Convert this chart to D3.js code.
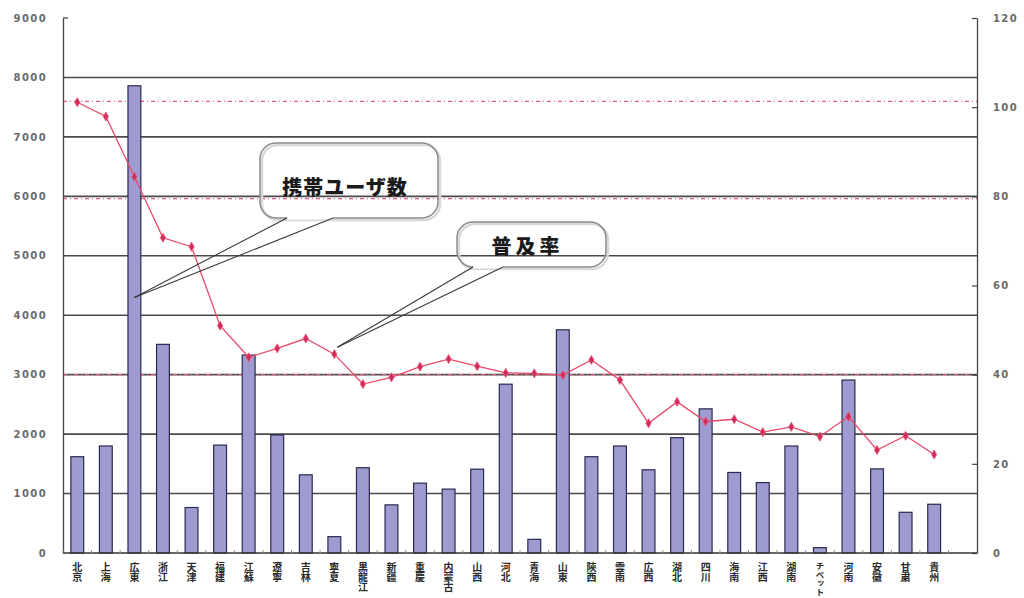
<!DOCTYPE html>
<html>
<head>
<meta charset="utf-8">
<script src="https://cdn.jsdelivr.net/npm/d3@7"></script>
<style>
  html, body { margin: 0; padding: 0; background: #ffffff; }
  svg { display: block; }
  .cat { writing-mode: vertical-rl; text-orientation: upright; }
</style>
</head>
<body>
<svg id="chart" width="1024" height="598"></svg>
<script>
// Provinces, ordered by penetration rate
const provinces = ["北京","上海","広東","浙江","天津","福建","江蘇","遼寧","吉林","寧夏",
  "黒龍江","新疆","重慶","内蒙古","山西","河北","青海","山東","陝西","雲南",
  "広西","湖北","四川","海南","江西","湖南","チベット","河南","安徽","甘粛","貴州"];

// Mobile subscribers (万人)
const users = [1620,1800,7860,3510,765,1815,3330,1985,1315,275,
  1435,810,1175,1075,1410,2840,230,3755,1620,1800,
  1400,1940,2425,1355,1185,1800,90,2910,1415,685,820];

// Penetration rate (%)
const rate = [101.1,97.9,84.4,70.7,68.7,51.0,43.9,45.9,48.1,44.6,
  37.9,39.4,41.8,43.5,41.9,40.4,40.3,39.9,43.3,38.8,
  29.1,33.9,29.5,30.0,27.1,28.3,26.1,30.6,23.1,26.3,22.1];

// Axis ticks
const leftTicks = [0,1000,2000,3000,4000,5000,6000,7000,8000,9000];
const rightTicks = [0,20,40,60,80,100,120];

// Reference levels on the rate axis (red dashed)
const rateRefs = [101.3, 79.5, 40];

// Callout texts
const calloutUsers = "携帯ユーザ数";
const calloutRate = "普及率";

const svg = d3.select("#chart");
const plotL = 63, plotR = 977, plotT = 18, plotB = 553;

const x = d3.scaleBand()
  .domain(provinces.concat(["_"]))
  .range([plotL, plotR])
  .paddingInner(0.55)
  .paddingOuter(0.275);

const yL = d3.scaleLinear().domain([0, 9000]).range([plotB, plotT]);
const yR = d3.scaleLinear().domain([0, 120]).range([plotB, plotT]);

// Horizontal gridlines
svg.append("g")
  .selectAll("line")
  .data(leftTicks.filter(t => t > 0 && t < 9000))
  .join("line")
  .attr("x1", plotL).attr("x2", plotR)
  .attr("y1", d => yL(d)).attr("y2", d => yL(d))
  .attr("stroke", "#4a4a4a")
  .attr("stroke-width", 1.6);

// Red dashed reference levels
svg.append("g")
  .selectAll("line")
  .data(rateRefs)
  .join("line")
  .attr("x1", plotL).attr("x2", plotR)
  .attr("y1", d => yR(d)).attr("y2", d => yR(d))
  .attr("stroke", "#e2607e")
  .attr("stroke-width", 1.3)
  .attr("stroke-dasharray", "4,3,1,3");

// Left axis
const axL = svg.append("g").attr("transform", `translate(${plotL},0)`)
  .call(d3.axisLeft(yL).tickValues(leftTicks).tickSize(0).tickPadding(16).tickFormat(d3.format("d")));
axL.select(".domain").attr("stroke", "#444").attr("stroke-width", 1.3);
axL.selectAll("text")
  .attr("fill", "#6a6a6a")
  .attr("font-family", "DejaVu Sans, sans-serif")
  .attr("font-size", 10)
  .attr("font-weight", 700)
  .attr("letter-spacing", "1.4px");
// small cap tick at the top of the left axis
svg.append("line")
  .attr("x1", plotL).attr("x2", plotL + 5)
  .attr("y1", yL(9000)).attr("y2", yL(9000))
  .attr("stroke", "#444").attr("stroke-width", 1.3);

// Right axis
const axR = svg.append("g").attr("transform", `translate(${plotR},0)`)
  .call(d3.axisRight(yR).tickValues(rightTicks).tickSizeInner(-5).tickSizeOuter(0).tickPadding(16));
axR.select(".domain").attr("stroke", "#444").attr("stroke-width", 1.3);
axR.selectAll(".tick line").attr("stroke", "#444").attr("stroke-width", 1.2);
axR.selectAll("text")
  .attr("fill", "#6a6a6a")
  .attr("font-family", "DejaVu Sans, sans-serif")
  .attr("font-size", 10)
  .attr("font-weight", 700)
  .attr("letter-spacing", "1.4px");

// Bars
svg.append("g")
  .selectAll("rect")
  .data(provinces)
  .join("rect")
  .attr("x", d => x(d))
  .attr("width", x.bandwidth())
  .attr("y", (d, i) => yL(users[i]))
  .attr("height", (d, i) => yL(0) - yL(users[i]))
  .attr("fill", "#9d9bd0")
  .attr("stroke", "#2a2a50")
  .attr("stroke-width", 1.2);

// Baseline with category separators
svg.append("line")
  .attr("x1", plotL).attr("x2", plotR)
  .attr("y1", plotB).attr("y2", plotB)
  .attr("stroke", "#333").attr("stroke-width", 1.6);
svg.append("g")
  .selectAll("line")
  .data(provinces.concat(["_"]))
  .join("line")
  .attr("x1", d => x(d) - x.step() * x.paddingInner() / 2)
  .attr("x2", d => x(d) - x.step() * x.paddingInner() / 2)
  .attr("y1", plotB - 3).attr("y2", plotB)
  .attr("stroke", "#9aa060").attr("stroke-width", 1);

// Category labels, written top to bottom
svg.append("g")
  .selectAll("text")
  .data(provinces)
  .join("text")
  .attr("class", "cat")
  .attr("x", d => x(d) + x.bandwidth() / 2)
  .attr("y", 562)
  .attr("fill", "#2a2a2a")
  .attr("font-family", "Noto Sans CJK JP, sans-serif")
  .attr("font-size", d => d.length > 3 ? 8.5 : 10)
  .attr("font-weight", 700)
  .text(d => d);

// Penetration rate line
const line = d3.line()
  .x((d, i) => x(provinces[i]) + x.bandwidth() / 2)
  .y(d => yR(d));
svg.append("path")
  .datum(rate)
  .attr("d", line)
  .attr("fill", "none")
  .attr("stroke", "#e8486a")
  .attr("stroke-width", 1.3);
svg.append("g")
  .selectAll("path")
  .data(rate)
  .join("path")
  .attr("transform", (d, i) => `translate(${x(provinces[i]) + x.bandwidth() / 2},${yR(d)})`)
  .attr("d", d3.symbol(d3.symbolDiamond, 24))
  .attr("fill", "#d42a5a")
  .attr("stroke", "#e85a7a")
  .attr("stroke-width", 0.8);

// Speech-bubble callouts (transparent body, wedge pointing to a mark)
function callout(box, wedge, tip, label, fontSize, spacing, dy) {
  const g = svg.append("g");
  const r = 16;
  // soft shadow
  g.append("rect")
    .attr("x", box.x + 2).attr("y", box.y + 2)
    .attr("width", box.w).attr("height", box.h)
    .attr("rx", r).attr("ry", r)
    .attr("fill", "none").attr("stroke", "#d8d8d8").attr("stroke-width", 2.5);
  g.append("rect")
    .attr("x", box.x).attr("y", box.y)
    .attr("width", box.w).attr("height", box.h)
    .attr("rx", r).attr("ry", r)
    .attr("fill", "none").attr("stroke", "#8a8a8a").attr("stroke-width", 1.5);
  // gap in the bubble edge where the wedge starts
  g.append("line")
    .attr("x1", wedge[0]).attr("x2", wedge[1])
    .attr("y1", box.y + box.h).attr("y2", box.y + box.h)
    .attr("stroke", "#ffffff").attr("stroke-width", 3);
  wedge.forEach(wx => {
    g.append("line")
      .attr("x1", wx).attr("y1", box.y + box.h)
      .attr("x2", tip[0]).attr("y2", tip[1])
      .attr("stroke", "#3a3a3a").attr("stroke-width", 1.1);
  });
  g.append("text")
    .attr("x", box.x + box.w / 2 - 4)
    .attr("y", box.y + box.h / 2 + fontSize * 0.36 + dy)
    .attr("text-anchor", "middle")
    .attr("font-family", "Noto Sans CJK JP, sans-serif")
    .attr("font-weight", 900)
    .attr("font-size", fontSize)
    .attr("letter-spacing", spacing + "px")
    .attr("fill", "#1a1a1a")
    .text(label);
}

callout({x: 260, y: 143, w: 178, h: 75}, [287, 333],
  [x("広東") + x.bandwidth() / 2, yL(4300)], calloutUsers, 20, 1, 7);
callout({x: 457, y: 222, w: 149, h: 45}, [473, 503],
  [x(provinces[9]) + x.bandwidth() / 2 + 3, yR(rate[9]) - 7], calloutRate, 20, 4, 2);
</script>
</body>
</html>
